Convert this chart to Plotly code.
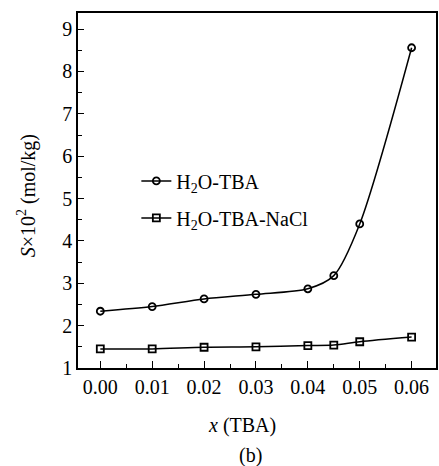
import plotly.graph_objects as go

x_vals = [0.00, 0.01, 0.02, 0.03, 0.04, 0.045, 0.05, 0.06]
tba = [2.34, 2.45, 2.63, 2.74, 2.87, 3.18, 4.40, 8.56]
tba_nacl = [1.45, 1.45, 1.49, 1.50, 1.53, 1.54, 1.62, 1.73]
x_ticks = [0.00, 0.01, 0.02, 0.03, 0.04, 0.05, 0.06]
x_tick_text = ["0.00", "0.01", "0.02", "0.03", "0.04", "0.05", "0.06"]
y_ticks = [1, 2, 3, 4, 5, 6, 7, 8, 9]

FONT = "Liberation Serif"
ANN_FONT = "serif"
FS = 20

fig = go.Figure()
fig.add_trace(go.Scatter(
    x=x_vals, y=tba, mode="lines+markers", name="H<sub>2</sub>O-TBA",
    line=dict(color="black", width=1.5, shape="spline", smoothing=0.8),
    marker=dict(symbol="circle-open", size=7, color="black", line=dict(width=1.8)),
    legendgroup="a",
))
fig.add_trace(go.Scatter(
    x=x_vals, y=tba_nacl, mode="lines+markers", name="H<sub>2</sub>O-TBA-NaCl",
    line=dict(color="black", width=1.5, shape="spline", smoothing=0.8),
    marker=dict(symbol="square-open", size=7, color="black", line=dict(width=1.8)),
    legendgroup="b",
))

axis_common = dict(
    showline=True, linecolor="black", linewidth=1.5, mirror=True,
    ticks="inside", tickcolor="black", showgrid=False, zeroline=False,
    tickfont=dict(family=FONT, size=FS, color="black"),
)

fig.update_xaxes(
    **axis_common, range=[-0.0043, 0.0647], tickvals=x_ticks, ticktext=x_tick_text,
    ticklen=7, tickwidth=1.2,
    minor=dict(dtick=0.005, tick0=0, ticks="inside", ticklen=4, tickcolor="black", tickwidth=1),
)
fig.update_yaxes(
    **axis_common, range=[1, 9.38], tickvals=y_ticks, ticklen=6, tickwidth=1.2,
    minor=dict(dtick=0.5, tick0=1, ticks="inside", ticklen=4, tickcolor="black", tickwidth=1),
)

# axis titles and panel label placed as paper annotations
fig.add_annotation(
    text="<i>S</i>×10<sup>2</sup> (mol/kg)", xref="paper", yref="paper",
    x=-(78 - 26) / 360, y=(368 - 196) / 355, textangle=-90,
    showarrow=False, font=dict(family=ANN_FONT, size=FS, color="black"),
    xanchor="center", yanchor="middle",
)
fig.add_annotation(
    text="<i>x</i> (TBA)", xref="paper", yref="paper",
    x=(243 - 78) / 360, y=-(425 - 368) / 355,
    showarrow=False, font=dict(family=ANN_FONT, size=FS, color="black"),
    xanchor="center", yanchor="middle",
)
fig.add_annotation(
    text="(b)", xref="paper", yref="paper", x=(251 - 78) / 360, y=-(455 - 368) / 355,
    showarrow=False, font=dict(family=ANN_FONT, size=FS, color="black"),
    xanchor="center", yanchor="middle",
)

fig.update_layout(
    width=439, height=466,
    margin=dict(l=78, r=1, t=13, b=98),
    paper_bgcolor="white", plot_bgcolor="white",
    font=dict(family=FONT, size=FS, color="black"),
    showlegend=True,
    legend=dict(
        x=0.163, y=0.475, xanchor="left", yanchor="middle",
        font=dict(family=FONT, size=FS, color="black"),
        bgcolor="rgba(0,0,0,0)", traceorder="grouped", tracegroupgap=8,
    ),
)

fig.write_html("out.html")
